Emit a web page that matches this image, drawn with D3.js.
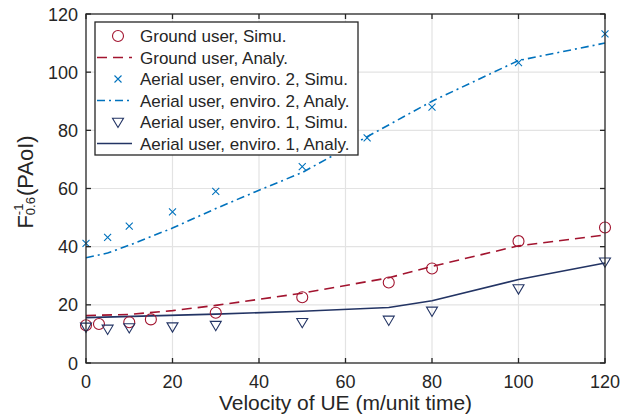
<!DOCTYPE html>
<html>
<head>
<meta charset="utf-8">
<script src="https://cdn.jsdelivr.net/npm/d3@7"></script>
<style>
  body { margin: 0; background: #fff; }
  text { font-family: "Liberation Sans", Arial, Helvetica, sans-serif; fill: #262626; }
</style>
</head>
<body>
<div id="chart"></div>
<script>
var svgWidth = 630;
var svgHeight = 416;

var margin = { top: 14, right: 25, bottom: 53, left: 86 };
var width = svgWidth - margin.left - margin.right;
var height = svgHeight - margin.top - margin.bottom;

// data
var xTicks = [0, 20, 40, 60, 80, 100, 120];
var yTicks = [0, 20, 40, 60, 80, 100, 120];

var groundSimuX = [0, 3, 10, 15, 30, 50, 70, 80, 100, 120];
var groundSimuY = [13, 13.4, 14, 15, 17.3, 22.6, 27.7, 32.5, 41.9, 46.6];

var groundAnalyX = [0, 10, 20, 30, 50, 70, 80, 100, 120];
var groundAnalyY = [16.3, 16.7, 18, 19.8, 24, 29.3, 33.2, 40.3, 44];

var env2SimuX = [0, 5, 10, 20, 30, 50, 65, 80, 100, 120];
var env2SimuY = [41.1, 43.2, 47.1, 52, 59, 67.5, 77.4, 88, 103.3, 113.2];

var env2AnalyX = [0, 5, 10, 20, 30, 40, 50, 65, 80, 100, 120];
var env2AnalyY = [36.2, 37.8, 40.5, 46.4, 53.1, 59.4, 65.5, 77.8, 90, 104, 110];

var env1SimuX = [0, 5, 10, 20, 30, 50, 70, 80, 100, 120];
var env1SimuY = [12.4, 11.7, 12.2, 12.5, 13, 14, 14.8, 17.9, 25.6, 34.8];

var env1AnalyX = [0, 30, 50, 70, 80, 100, 120];
var env1AnalyY = [15.6, 16.8, 17.8, 19.1, 21.4, 28.7, 34.4];

var red = "#A2142F";
var blue = "#0072BD";
var navy = "#233464";

var svg = d3.select("#chart")
  .append("svg")
  .attr("width", svgWidth)
  .attr("height", svgHeight);

var chartGroup = svg.append("g")
  .attr("transform", `translate(${margin.left}, ${margin.top})`);

var x = d3.scaleLinear().domain([0, 120]).range([0, width]);
var y = d3.scaleLinear().domain([0, 120]).range([height, 0]);

// grid
chartGroup.selectAll("line.gx")
  .data(xTicks.slice(1, -1))
  .enter().append("line")
  .attr("x1", d => x(d)).attr("x2", d => x(d))
  .attr("y1", 0).attr("y2", height)
  .attr("stroke", "#e3e3e3").attr("stroke-width", 1.2);

chartGroup.selectAll("line.gy")
  .data(yTicks.slice(1, -1))
  .enter().append("line")
  .attr("y1", d => y(d)).attr("y2", d => y(d))
  .attr("x1", 0).attr("x2", width)
  .attr("stroke", "#e3e3e3").attr("stroke-width", 1.2);

function pairs(xs, ys) {
  return xs.map((v, i) => [v, ys[i]]);
}

var line = d3.line().x(d => x(d[0])).y(d => y(d[1]));

function drawLine(data, color, dash) {
  chartGroup.append("path")
    .datum(data)
    .attr("d", line)
    .attr("fill", "none")
    .attr("stroke", color)
    .attr("stroke-width", 1.6)
    .attr("stroke-dasharray", dash);
}

drawLine(pairs(env2AnalyX, env2AnalyY), blue, "8,4,2,4");
drawLine(pairs(groundAnalyX, groundAnalyY), red, "10,6");
drawLine(pairs(env1AnalyX, env1AnalyY), navy, null);

function circleMark(g, color) {
  g.append("circle").attr("r", 5.5).attr("fill", "none")
    .attr("stroke", color).attr("stroke-width", 1.1);
}
function crossMark(g, color) {
  g.append("path").attr("d", "M-3.5,-3.5L3.5,3.5M-3.5,3.5L3.5,-3.5")
    .attr("stroke", color).attr("stroke-width", 1.1).attr("fill", "none");
}
function triMark(g, color) {
  g.append("path").attr("d", "M-5.5,-3.8L5.5,-3.8L0,5.5Z")
    .attr("stroke", color).attr("stroke-width", 1.1).attr("fill", "none");
}

function drawMarks(data, fn, color) {
  chartGroup.selectAll(null)
    .data(data)
    .enter().append("g")
    .attr("transform", d => `translate(${x(d[0])}, ${y(d[1])})`)
    .each(function() { fn(d3.select(this), color); });
}

drawMarks(pairs(groundSimuX, groundSimuY), circleMark, red);
drawMarks(pairs(env2SimuX, env2SimuY), crossMark, blue);
drawMarks(pairs(env1SimuX, env1SimuY), triMark, navy);

// axes (box with inward ticks)
var axisColor = "#262626";
chartGroup.append("rect")
  .attr("width", width).attr("height", height)
  .attr("fill", "none").attr("stroke", axisColor).attr("stroke-width", 1.3);

xTicks.forEach(function(t) {
  chartGroup.append("line").attr("x1", x(t)).attr("x2", x(t))
    .attr("y1", height).attr("y2", height - 5).attr("stroke", axisColor).attr("stroke-width", 1.3);
  chartGroup.append("line").attr("x1", x(t)).attr("x2", x(t))
    .attr("y1", 0).attr("y2", 5).attr("stroke", axisColor).attr("stroke-width", 1.3);
  chartGroup.append("text")
    .attr("x", x(t)).attr("y", height + 25)
    .attr("text-anchor", "middle").attr("font-size", 18)
    .text(t);
});

yTicks.forEach(function(t) {
  chartGroup.append("line").attr("x1", 0).attr("x2", 5)
    .attr("y1", y(t)).attr("y2", y(t)).attr("stroke", axisColor).attr("stroke-width", 1.3);
  chartGroup.append("line").attr("x1", width).attr("x2", width - 5)
    .attr("y1", y(t)).attr("y2", y(t)).attr("stroke", axisColor).attr("stroke-width", 1.3);
  chartGroup.append("text")
    .attr("x", -8).attr("y", y(t) + 6.5)
    .attr("text-anchor", "end").attr("font-size", 18)
    .text(t);
});

// axis labels
chartGroup.append("text")
  .attr("x", width / 2).attr("y", height + 47)
  .attr("text-anchor", "middle").attr("font-size", 21)
  .text("Velocity of UE (m/unit time)");

var yl = svg.append("text")
  .attr("transform", "translate(33, 182) rotate(-90)")
  .attr("text-anchor", "middle").attr("font-size", 22);
yl.append("tspan").text("F");
yl.append("tspan").attr("font-size", 13).attr("dy", -10).text("-1");
yl.append("tspan").attr("font-size", 13).attr("dx", -11.6).attr("dy", 12).text("0.6");
yl.append("tspan").attr("dx", 1).attr("dy", -2).text("(PAoI)");

// legend
var legendItems = [
  { label: "Ground user, Simu.", color: red, mark: circleMark },
  { label: "Ground user, Analy.", color: red, dash: "10,6" },
  { label: "Aerial user, enviro. 2, Simu.", color: blue, mark: crossMark },
  { label: "Aerial user, enviro. 2, Analy.", color: blue, dash: "8,4,2,4" },
  { label: "Aerial user, enviro. 1, Simu.", color: navy, mark: triMark },
  { label: "Aerial user, enviro. 1, Analy.", color: navy, dash: "none" }
];

var legend = svg.append("g").attr("transform", "translate(95, 22)");
legend.append("rect")
  .attr("width", 263).attr("height", 133)
  .attr("fill", "#fff").attr("stroke", axisColor).attr("stroke-width", 1.3);

legendItems.forEach(function(item, i) {
  var row = legend.append("g").attr("transform", `translate(0, ${14 + i * 21.5})`);
  if (item.mark) {
    var mg = row.append("g").attr("transform", "translate(23, 0)");
    item.mark(mg, item.color);
  } else {
    row.append("line").attr("x1", 2).attr("x2", 37).attr("y1", 0).attr("y2", 0)
      .attr("stroke", item.color).attr("stroke-width", 1.6)
      .attr("stroke-dasharray", item.dash === "none" ? null : item.dash);
  }
  row.append("text").attr("x", 45).attr("y", 6)
    .attr("font-size", 17).text(item.label);
});
</script>
</body>
</html>
